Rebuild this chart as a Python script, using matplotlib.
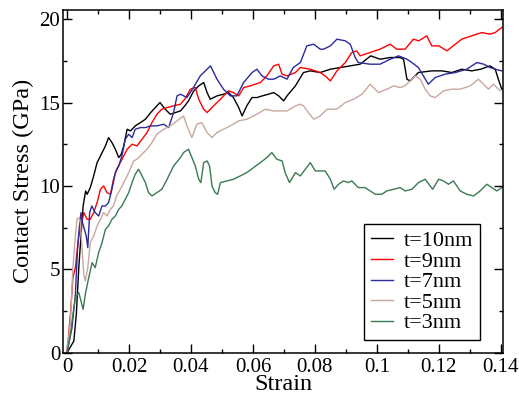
import matplotlib
matplotlib.use("Agg")
import matplotlib.pyplot as plt
from matplotlib.ticker import MultipleLocator, FuncFormatter

plt.rcParams['font.family'] = ['Liberation Serif', 'DejaVu Serif']

labels = ["t=10nm", "t=9nm", "t=7nm", "t=5nm", "t=3nm"]
colors = ["#000000", "#ff0000", "#2b2b9e", "#c8a89e", "#3a7a52"]

strain_10 = [0, 0.0022, 0.003, 0.0038, 0.0045, 0.0052, 0.006, 0.0065, 0.0075, 0.0086, 0.0097, 0.0108, 0.0124, 0.0134, 0.0145, 0.0156, 0.0167, 0.0175, 0.0183, 0.0194, 0.0205, 0.022, 0.0237, 0.0253, 0.027, 0.0285, 0.030, 0.0317, 0.0333, 0.035, 0.0366, 0.038, 0.0392, 0.0409, 0.0425, 0.0441, 0.0452, 0.0462, 0.0473, 0.0484, 0.0505, 0.0521, 0.0537, 0.0554, 0.0565, 0.058, 0.0597, 0.0613, 0.063, 0.065, 0.0667, 0.0683, 0.0699, 0.071, 0.0737, 0.0763, 0.0785, 0.0817, 0.085, 0.0882, 0.0914, 0.0946, 0.098, 0.101, 0.1043, 0.1075, 0.1086, 0.1097, 0.1107, 0.1134, 0.1177, 0.121, 0.1242, 0.1274, 0.1306, 0.1335, 0.1365, 0.1382, 0.1392, 0.1403]
stress_10 = [0, 0.7, 2.3, 5.1, 7.0, 8.8, 9.7, 9.5, 9.9, 10.6, 11.4, 11.8, 12.4, 12.9, 12.6, 12.2, 11.7, 11.9, 12.4, 13.4, 13.3, 13.6, 13.8, 14.0, 14.4, 14.7, 15.0, 14.6, 14.3, 14.4, 14.5, 14.8, 15.1, 15.7, 16.0, 16.2, 15.6, 15.2, 15.3, 15.4, 15.5, 15.6, 15.3, 14.7, 14.2, 14.8, 15.3, 15.3, 15.4, 15.5, 15.6, 15.4, 15.1, 15.4, 16.0, 16.8, 16.9, 16.8, 17.0, 17.1, 17.2, 17.3, 17.8, 17.6, 17.7, 17.7, 17.6, 16.4, 16.3, 16.8, 16.9, 16.9, 16.8, 17.0, 16.9, 17.0, 17.2, 17.0, 16.4, 15.8]

strain_9 = [0, 0.0011, 0.0019, 0.0027, 0.0038, 0.0045, 0.0054, 0.0065, 0.0075, 0.0086, 0.0097, 0.0108, 0.0118, 0.0129, 0.014, 0.015, 0.016, 0.0172, 0.0183, 0.0194, 0.021, 0.0226, 0.0242, 0.0258, 0.0274, 0.029, 0.0306, 0.0323, 0.0344, 0.0366, 0.038, 0.0398, 0.0414, 0.0425, 0.0441, 0.0452, 0.0473, 0.0495, 0.0521, 0.0537, 0.0554, 0.057, 0.0591, 0.0624, 0.0645, 0.0667, 0.0683, 0.0694, 0.071, 0.0737, 0.0753, 0.0785, 0.0817, 0.0833, 0.085, 0.0871, 0.0898, 0.0919, 0.0935, 0.0946, 0.0978, 0.101, 0.1043, 0.1064, 0.1091, 0.1118, 0.1135, 0.1161, 0.1177, 0.12, 0.1226, 0.1253, 0.1274, 0.1306, 0.1339, 0.1365, 0.1382, 0.1403]
stress_9 = [0, 2.3, 4.5, 5.1, 7.0, 7.5, 8.4, 8.0, 8.0, 8.4, 9.0, 9.8, 10.0, 9.6, 9.5, 10.4, 11.0, 11.4, 11.8, 12.2, 12.5, 12.4, 12.8, 13.2, 13.8, 14.3, 14.6, 14.7, 14.8, 14.9, 15.2, 15.8, 15.9, 15.2, 14.6, 14.4, 14.8, 15.2, 15.7, 15.6, 15.4, 15.9, 16.0, 16.2, 16.6, 17.2, 17.3, 16.7, 16.6, 16.8, 17.1, 17.0, 16.8, 16.6, 16.3, 16.9, 17.4, 18.0, 18.1, 17.8, 18.0, 18.2, 18.5, 18.2, 18.2, 18.8, 18.7, 19.0, 18.4, 18.4, 18.1, 18.5, 18.8, 19.0, 19.2, 19.1, 19.2, 19.5]

strain_7 = [0, 0.0016, 0.0027, 0.0034, 0.0041, 0.0045, 0.005, 0.0056, 0.0062, 0.0067, 0.0073, 0.008, 0.0091, 0.0102, 0.0113, 0.0124, 0.0134, 0.0145, 0.0156, 0.0167, 0.0177, 0.0188, 0.0199, 0.021, 0.022, 0.0237, 0.0253, 0.0269, 0.029, 0.0312, 0.0328, 0.0344, 0.0355, 0.0366, 0.0387, 0.0408, 0.043, 0.0452, 0.0463, 0.0484, 0.0505, 0.0527, 0.0548, 0.057, 0.0597, 0.0613, 0.0629, 0.065, 0.0667, 0.0688, 0.071, 0.073, 0.0753, 0.0774, 0.0796, 0.0817, 0.0828, 0.085, 0.0871, 0.0898, 0.0914, 0.093, 0.094, 0.0978, 0.101, 0.1043, 0.107, 0.1097, 0.1113, 0.1134, 0.115, 0.1166, 0.1188, 0.122, 0.1253, 0.129, 0.1323, 0.1345, 0.1365, 0.1382, 0.1403]
stress_7 = [0, 1.5, 3.5, 6.3, 7.8, 8.4, 7.8, 7.4, 7.0, 6.3, 8.4, 8.8, 8.4, 8.2, 8.8, 8.8, 9.0, 9.8, 10.8, 11.2, 11.8, 12.8, 13.1, 12.9, 13.4, 13.5, 13.5, 13.6, 13.6, 13.7, 13.5, 14.4, 15.4, 15.5, 15.3, 15.9, 16.6, 17.0, 17.2, 16.4, 15.8, 15.4, 15.4, 16.2, 16.8, 17.0, 16.6, 16.4, 16.4, 16.6, 16.4, 17.1, 17.4, 18.4, 18.5, 18.2, 18.2, 18.4, 18.8, 18.7, 18.5, 17.7, 17.4, 17.3, 17.3, 17.6, 17.8, 17.6, 17.4, 17.1, 16.6, 16.1, 16.5, 16.7, 16.8, 17.0, 17.4, 17.3, 17.1, 17.0, 16.9]

strain_5 = [0, 0.0011, 0.0019, 0.0027, 0.0032, 0.0038, 0.0043, 0.0048, 0.0054, 0.0059, 0.0067, 0.0075, 0.0086, 0.0097, 0.0108, 0.0118, 0.0129, 0.014, 0.015, 0.016, 0.0172, 0.0183, 0.0194, 0.0204, 0.0215, 0.0226, 0.0242, 0.0258, 0.0274, 0.029, 0.0312, 0.0333, 0.0355, 0.0376, 0.0387, 0.0403, 0.0419, 0.0435, 0.0452, 0.0468, 0.0484, 0.0505, 0.0527, 0.0554, 0.058, 0.0613, 0.064, 0.0667, 0.0694, 0.071, 0.0737, 0.0753, 0.0763, 0.0779, 0.0796, 0.0817, 0.0839, 0.087, 0.0898, 0.0925, 0.0952, 0.0978, 0.1005, 0.1032, 0.1054, 0.1075, 0.1091, 0.1124, 0.114, 0.1156, 0.1172, 0.1188, 0.1215, 0.1242, 0.1269, 0.1301, 0.1328, 0.1344, 0.136, 0.1376, 0.1398]
stress_5 = [0, 1.9, 5.1, 7.0, 8.0, 8.1, 7.8, 6.4, 4.7, 4.3, 5.1, 6.6, 7.0, 7.6, 8.0, 8.4, 8.2, 8.6, 8.8, 9.4, 9.8, 10.2, 10.6, 11.0, 11.5, 11.6, 11.9, 12.2, 12.6, 13.1, 13.4, 13.6, 13.9, 14.2, 13.6, 12.9, 13.7, 13.8, 13.2, 12.9, 13.2, 13.4, 13.6, 13.9, 14.0, 14.3, 14.6, 14.5, 14.5, 14.5, 14.8, 14.9, 14.8, 14.4, 14.0, 14.2, 14.6, 14.6, 15.0, 15.2, 15.5, 16.1, 15.6, 15.8, 16.0, 15.9, 16.0, 16.6, 16.4, 15.8, 15.4, 15.3, 15.7, 15.8, 15.8, 16.0, 16.4, 16.1, 15.8, 16.1, 15.7]

strain_3 = [0, 0.0011, 0.0019, 0.0027, 0.0038, 0.0045, 0.0052, 0.0059, 0.007, 0.0081, 0.0091, 0.0102, 0.0113, 0.0124, 0.0134, 0.0145, 0.0156, 0.0167, 0.0177, 0.0188, 0.0199, 0.021, 0.022, 0.0231, 0.0242, 0.0253, 0.0263, 0.0274, 0.029, 0.0306, 0.0323, 0.0344, 0.0366, 0.0376, 0.0392, 0.0403, 0.0414, 0.0425, 0.0432, 0.0441, 0.0452, 0.046, 0.0468, 0.0478, 0.0486, 0.0495, 0.0516, 0.0537, 0.0559, 0.058, 0.0602, 0.0624, 0.0645, 0.0661, 0.0677, 0.0694, 0.0704, 0.0718, 0.0737, 0.0753, 0.0769, 0.0785, 0.0801, 0.0817, 0.0833, 0.085, 0.0862, 0.0876, 0.0892, 0.0908, 0.0919, 0.094, 0.0962, 0.0978, 0.0995, 0.1016, 0.1032, 0.1054, 0.1075, 0.1091, 0.1113, 0.1134, 0.1156, 0.118, 0.1199, 0.1215, 0.1231, 0.1247, 0.1269, 0.129, 0.1312, 0.1333, 0.1355, 0.1371, 0.1387, 0.1403]
stress_3 = [0, 1.1, 2.3, 3.3, 3.6, 3.1, 2.6, 3.5, 4.5, 5.4, 5.1, 6.0, 6.6, 7.4, 7.6, 8.0, 8.2, 8.6, 8.8, 9.2, 9.6, 10.2, 10.7, 11.0, 10.6, 10.2, 9.6, 9.4, 9.6, 9.8, 10.4, 11.2, 11.7, 12.0, 12.2, 11.7, 11.2, 10.4, 10.2, 11.4, 11.5, 11.2, 10.0, 9.6, 9.5, 10.2, 10.3, 10.4, 10.6, 10.8, 11.1, 11.4, 11.7, 12.0, 11.6, 11.5, 10.8, 10.2, 10.8, 10.6, 11.0, 11.4, 10.9, 10.9, 10.9, 10.4, 9.8, 10.1, 10.3, 10.2, 10.3, 9.9, 9.9, 9.7, 9.5, 9.5, 9.7, 9.8, 9.9, 9.7, 9.8, 10.2, 10.4, 9.8, 10.4, 10.3, 10.1, 10.3, 9.7, 9.5, 9.4, 9.7, 10.1, 9.9, 9.7, 9.9]

x_ticks = [0, 0.02, 0.04, 0.06, 0.08, 0.1, 0.12, 0.14]
y_ticks = [0, 5, 10, 15, 20]

series = [(strain_10, stress_10), (strain_9, stress_9), (strain_7, stress_7),
          (strain_5, stress_5), (strain_3, stress_3)]

fig = plt.figure(figsize=(5.19, 3.94), dpi=100)
ax = fig.add_axes([63 / 519, (394 - 352.7) / 394, (503 - 63) / 519, (352.7 - 10) / 394])

for (xs, ys), lab, col in zip(series, labels, colors):
    ax.plot(xs, ys, color=col, lw=1.0, label=lab)

ax.set_xlim(-0.0013, 0.1407)
ax.set_ylim(0, 20.55)
ax.set_xticks(x_ticks)
ax.set_yticks(y_ticks)
ax.xaxis.set_minor_locator(MultipleLocator(0.01))
ax.yaxis.set_minor_locator(MultipleLocator(2.5))

def fmt(v, pos):
    s = ('%.2f' % v).rstrip('0').rstrip('.')
    return s
ax.xaxis.set_major_formatter(FuncFormatter(fmt))

ax.tick_params(which='both', direction='in', top=True, right=True, width=1.0)
ax.tick_params(which='major', length=6.5)
ax.tick_params(which='minor', length=3.2)
ax.tick_params(axis='x', which='major', labelsize=15, pad=4)
ax.tick_params(axis='y', which='major', labelsize=15, pad=2)
for sp in ax.spines.values():
    sp.set_linewidth(1.1)

ax.set_xlabel("Strain", fontsize=17.5, labelpad=-2)
ax.set_ylabel("Contact Stress (GPa)", fontsize=17.5, labelpad=4)

leg = ax.legend(loc='upper left', bbox_to_anchor=((364 - 63) / 440, (352.7 - 224) / 342.7),
                fontsize=16, frameon=True, fancybox=False, framealpha=1,
                edgecolor='black', handlelength=1.0, handletextpad=0.5,
                labelspacing=0.0, borderpad=0.3, borderaxespad=0)
leg.get_frame().set_linewidth(1.0)

fig.savefig("out.png", dpi=100)
